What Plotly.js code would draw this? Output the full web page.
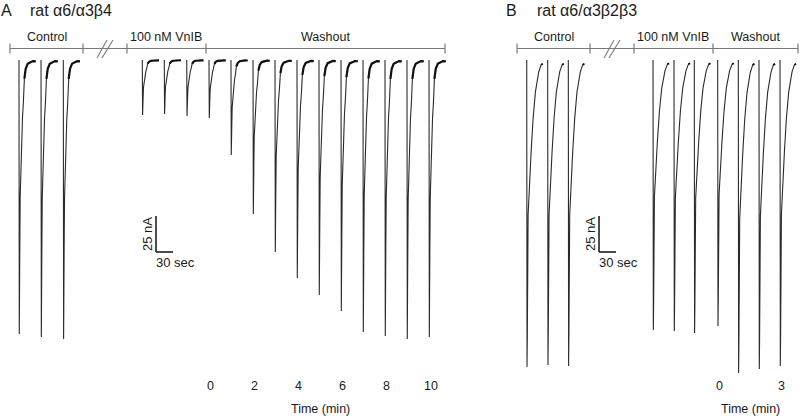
<!DOCTYPE html>
<html><head><meta charset="utf-8">
<script src="https://cdn.plot.ly/plotly-3.0.1.min.js"></script>
<style>html,body{margin:0;padding:0;background:#fff}#chart{width:800px;height:416px}</style>
</head><body><div id="chart"></div><script>
// ---------------- data (time in s, inward current peak in nA) ----------------
const ctrlOnsetA = [33.5, 72.4, 111.7];
const ctrlPeakA  = [190.3, 192.4, 193.8];
const vnibOnsetA = [251.1, 289.9, 329.5];
const vnibPeakA  = [38.2, 37.5, 38.9];
const washOnsetA = [368.8, 407.6, 446.5, 485.3, 524.1, 562.9, 601.8, 640.6, 679.4, 718.2, 757.1];
const washPeakA  = [40.3, 66.0, 106.9, 133.3, 151.4, 163.2, 174.3, 188.9, 191.7, 193.8, 192.4];

const ctrlOnsetB = [929.5, 966.5, 1002.9];
const ctrlPeakB  = [213.2, 211.8, 212.5];
const vnibOnsetB = [1152.4, 1189.4, 1225.2];
const vnibPeakB  = [187.5, 188.2, 189.6];
const washOnsetB = [1266.5, 1302.9, 1339.4, 1376.5];
const washPeakB  = [184.7, 217.4, 214.6, 212.5];

// normalized response waveform (s after onset, fraction of peak)
const shapeA_t = [0, 0.53, 1.41, 2.12, 3.18, 4.76, 6.18, 7.76, 9.53, 11.82, 15.35, 19.41, 24.71, 29.47];
const shapeA_f = [0, 1, 0.7, 0.5, 0.4, 0.3, 0.21, 0.154, 0.068, 0.032, 0.0135, 0.008, 0.004, 0.005];
const shapeB_t = [0, 0.53, 1.06, 2.47, 5.12, 7.76, 11.29, 15.35, 21.18, 25.41, 28.24];
const shapeB_f = [0, 1, 0.9, 0.505, 0.39, 0.30, 0.19, 0.104, 0.039, 0.016, 0.012];

// protocol epochs (s)
const epochBoundsA = [17.6, 146.5, 224.1, 363.5, 785.3];
const epochBoundsB = [912.4, 1041.2, 1118.8, 1258.2, 1408.2];
const epochLabels  = ['Control', '', '100 nM VnIB', 'Washout'];

// time tick labels (min of washout)
const timeTickMinA = [0, 2, 4, 6, 8, 10];
const timeTickMinB = [0, 3];

const panelTitles = ['rat α6/α3β4', 'rat α6/α3β2β3'];
const panelLetters = ['A', 'B'];

// ---------------- layout helpers ----------------
const W = 800, H = 416;
const SPP = 30 / 17;        // seconds per pixel
const NPP = 25 / 36;        // nA per pixel
const BASE_PX = 60;         // baseline row
const xr = [0, W * SPP];
const yr = [-(H - BASE_PX) * NPP, BASE_PX * NPP];
const yPx = p => (BASE_PX - p) * NPP;
const xPx = p => p * SPP;
const FONT = 'Liberation Sans, Arial, sans-serif';
const TXT = '#1a1a1a';
const GRAY = '#7a7a7a';

function buildTraces(onsets, peaks, st, sf, from) {
  const x = [], y = [];
  onsets.forEach((o, i) => {
    st.forEach((t, k) => { if (k >= from) { x.push(o + t); y.push(-peaks[i] * sf[k]); } });
    x.push(null); y.push(null);
  });
  return {x, y};
}
const traces = [];
function addRec(on, pk, st, sf, plateauFrom, plateauW) {
  const r = buildTraces(on, pk, st, sf, 0);
  traces.push({type: 'scatter', mode: 'lines', x: r.x, y: r.y, showlegend: false,
    hoverinfo: 'skip', line: {color: '#2b2b2b', width: 1.1}});
  const p = buildTraces(on, pk, st, sf, plateauFrom);
  traces.push({type: 'scatter', mode: 'lines', x: p.x, y: p.y, showlegend: false,
    hoverinfo: 'skip', line: {color: '#111', width: plateauW}});
}
addRec(ctrlOnsetA, ctrlPeakA, shapeA_t, shapeA_f, 8, 2.2);
addRec(vnibOnsetA, vnibPeakA, shapeA_t, shapeA_f, 8, 2.2);
addRec(washOnsetA, washPeakA, shapeA_t, shapeA_f, 8, 2.2);
addRec(ctrlOnsetB, ctrlPeakB, shapeB_t, shapeB_f, 9, 1.8);
addRec(vnibOnsetB, vnibPeakB, shapeB_t, shapeB_f, 9, 1.8);
addRec(washOnsetB, washPeakB, shapeB_t, shapeB_f, 9, 1.8);

const shapes = [], annotations = [];
const barY = yPx(48.5), tickH = 5 * NPP, labY = yPx(37);

function timeline(bounds) {
  shapes.push({type: 'line', xref: 'x', yref: 'y', x0: bounds[0], x1: bounds[bounds.length - 1],
    y0: barY, y1: barY, line: {color: GRAY, width: 1.2}});
  bounds.forEach(b => shapes.push({type: 'line', xref: 'x', yref: 'y', x0: b, x1: b,
    y0: barY - tickH, y1: barY + tickH, line: {color: GRAY, width: 1.2}}));
  epochLabels.forEach((lab, i) => {
    const mid = (bounds[i] + bounds[i + 1]) / 2;
    if (lab) {
      annotations.push({x: mid, y: labY, xref: 'x', yref: 'y', text: lab, showarrow: false,
        xanchor: 'center', yanchor: 'middle', font: {family: FONT, size: 12.5, color: TXT}});
    } else {
      // break marks //
      [[-8, 2], [-3, 8]].forEach(([a, b]) => shapes.push({type: 'line', xref: 'x', yref: 'y',
        x0: mid + a * SPP, x1: mid + b * SPP, y0: yPx(58), y1: yPx(40), line: {color: GRAY, width: 1.1}}));
    }
  });
}
timeline(epochBoundsA);
timeline(epochBoundsB);

function scaleBar(xc, yc) {
  shapes.push({type: 'line', xref: 'x', yref: 'y', x0: xc, x1: xc, y0: yc, y1: yc + 25, line: {color: '#111', width: 1.5}});
  shapes.push({type: 'line', xref: 'x', yref: 'y', x0: xc, x1: xc + 30, y0: yc, y1: yc, line: {color: '#111', width: 1.5}});
  annotations.push({x: xc - 9 * SPP, y: yc + 12.5, xref: 'x', yref: 'y', text: '25 nA', textangle: -90,
    showarrow: false, xanchor: 'center', yanchor: 'middle', font: {family: FONT, size: 13, color: TXT}});
  annotations.push({x: xc + 19 * SPP, y: yc - 10 * NPP, xref: 'x', yref: 'y', text: '30 sec',
    showarrow: false, xanchor: 'center', yanchor: 'middle', font: {family: FONT, size: 13, color: TXT}});
}
scaleBar(xPx(156), yPx(252));
scaleBar(xPx(599), yPx(252));

function timeAxis(onsets, ticks) {
  ticks.forEach(m => annotations.push({x: onsets[m] + 1.5 * SPP, y: yPx(386), xref: 'x', yref: 'y',
    text: String(m), showarrow: false, xanchor: 'center', yanchor: 'middle',
    font: {family: FONT, size: 12.5, color: TXT}}));
  const first = onsets[ticks[0]], last = onsets[ticks[ticks.length - 1]];
  annotations.push({x: (first + last) / 2 + 1.5 * SPP, y: yPx(409), xref: 'x', yref: 'y', text: 'Time (min)',
    showarrow: false, xanchor: 'center', yanchor: 'middle', font: {family: FONT, size: 12.5, color: TXT}});
}
timeAxis(washOnsetA, timeTickMinA);
timeAxis(washOnsetB, timeTickMinB);

// panel titles
[[6, 28], [511, 535]].forEach(([lx, tx], i) => {
  annotations.push({x: lx / W, y: 1 - 10 / H, xref: 'paper', yref: 'paper', text: panelLetters[i],
    showarrow: false, xanchor: 'center', yanchor: 'middle', font: {family: FONT, size: 16, color: TXT}});
  annotations.push({x: tx / W, y: 1 - 10 / H, xref: 'paper', yref: 'paper', text: panelTitles[i],
    showarrow: false, xanchor: 'left', yanchor: 'middle', font: {family: FONT, size: 16, color: TXT}});
});

const layout = {
  width: W, height: H, margin: {l: 0, r: 0, t: 0, b: 0, pad: 0},
  paper_bgcolor: '#fff', plot_bgcolor: '#fff',
  xaxis: {range: xr, visible: false, fixedrange: true},
  yaxis: {range: yr, visible: false, fixedrange: true},
  shapes, annotations, hovermode: false
};
Plotly.newPlot('chart', traces, layout, {staticPlot: true, displayModeBar: false});
</script></body></html>
